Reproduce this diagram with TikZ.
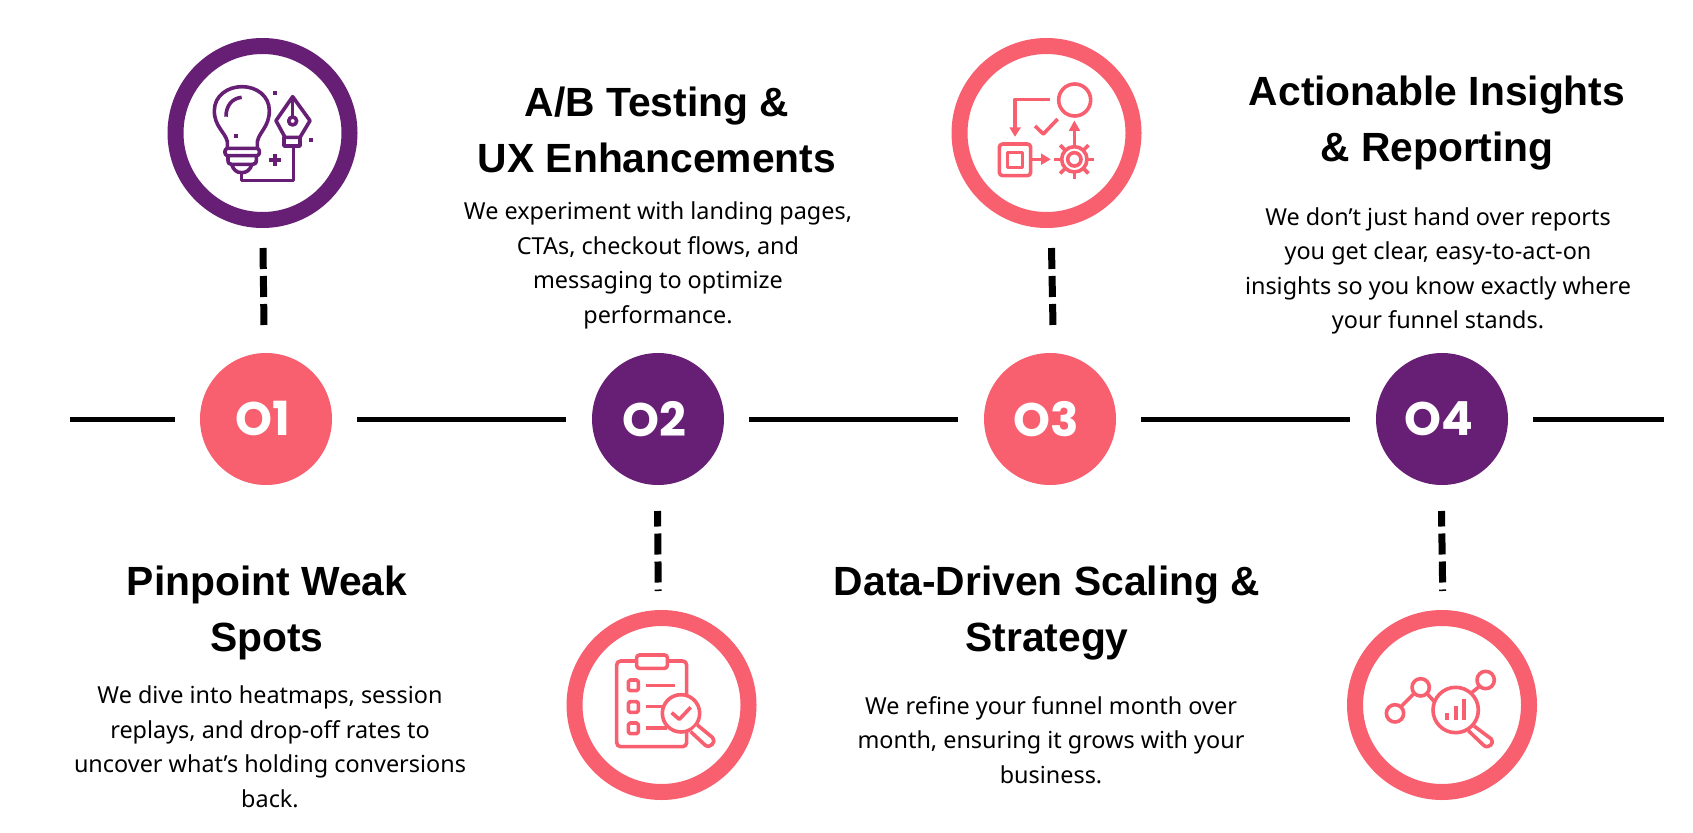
\documentclass[tikz,border=0pt]{standalone}
\usepackage{fontspec}
\setmainfont{Noto Sans}
\newfontfamily\numfont{Poppins}
\newfontfamily\headfont{Liberation Sans}
\definecolor{coral}{HTML}{F85F6F}
\definecolor{plum}{HTML}{661F75}
\tikzset{
    stepdot/.style={circle, fill=#1, minimum size=132, inner sep=0, text=white, font=\numfont\bfseries\fontsize{47}{47}\selectfont, execute at begin node=\hspace*{-7pt}},
    ring/.style={circle, draw=#1, line width=16, fill=white, minimum size=174, inner sep=0},
    timeline/.style={line width=5, black},
    dashline/.style={line width=7, black, dash pattern=on 21 off 7},
    headline/.style={align=center, font=\headfont\bfseries\fontsize{40.8}{56}\selectfont},
    bodytext/.style={align=center, font=\fontsize{23.4}{34.5}\selectfont},
    iconline/.style={line width=3.6, line join=round, draw=#1},
}
\begin{document}
\begin{tikzpicture}[x=1pt, y=-1pt]
    \useasboundingbox (0,0) rectangle (1693,832);

    \node[stepdot=coral] (step1) at (266,419) {O1};
    \node[stepdot=plum] (step2) at (658,419) {O2};
    \node[stepdot=coral] (step3) at (1050,419) {O3};
    \node[stepdot=plum] (step4) at (1442,419) {O4};

    \node[ring=plum] (ring1) at (262.5,133) {};
    \node[ring=coral] (ring2) at (661.5,705) {};
    \node[ring=coral] (ring3) at (1046.5,133) {};
    \node[ring=coral] (ring4) at (1442,705) {};

    \coordinate (lineL) at (70,419);
    \coordinate (lineR) at (1664,419);
    \draw[timeline, shorten >=25] (lineL) -- (step1);
    \draw[timeline, shorten <=25, shorten >=26] (step1) -- (step2);
    \draw[timeline, shorten <=25, shorten >=26] (step2) -- (step3);
    \draw[timeline, shorten <=25, shorten >=26] (step3) -- (step4);
    \draw[timeline, shorten <=25] (step4) -- (lineR);

    \coordinate (dash1a) at (263,248);
    \coordinate (dash1b) at (264,326);
    \coordinate (dash2a) at (657.6,511);
    \coordinate (dash2b) at (658.2,591);
    \coordinate (dash3a) at (1051.5,248);
    \coordinate (dash3b) at (1053,326);
    \coordinate (dash4a) at (1441.5,511);
    \coordinate (dash4b) at (1442.7,591);
    \draw[dashline] (dash1a) -- (dash1b);
    \draw[dashline, dash phase=5.5] (dash2a) -- (dash2b);
    \draw[dashline] (dash3a) -- (dash3b);
    \draw[dashline, dash phase=5.5] (dash4a) -- (dash4b);

    \node[headline] (title1) at (267,613) {Pinpoint Weak\\Spots};
    \node[bodytext] (body1) at (270,747) {We dive into heatmaps, session\\replays, and drop-off rates to\\uncover what’s holding conversions\\back.};
    \node[headline] (title2) at (657,129.5) {A/B Testing \&\\UX Enhancements};
    \node[bodytext] (body2) at (658,265.5) {We experiment with landing pages,\\CTAs, checkout flows, and\\messaging to optimize\\performance.};
    \node[headline] (title3) at (1047,613) {Data-Driven Scaling \&\\Strategy};
    \node[bodytext] (body3) at (1051,740) {We refine your funnel month over\\month, ensuring it grows with your\\business.};
    \node[headline] (title4) at (1437,123) {Actionable Insights\\\& Reporting};
    \node[bodytext] (body4) at (1438,271) {We don’t just hand over reports\\you get clear, easy-to-act-on\\insights so you know exactly where\\your funnel stands.};

    \begin{scope}[shift={(150,20)}, x=1/3*1pt, y=-1/3*1pt, iconline=plum]
        \draw (232,383) -- (232,365) .. controls (225,335) and (193,320) .. (193,272) .. controls (193,228) and (232,200) .. (276,200) .. controls (320,200) and (358,228) .. (358,272) .. controls (358,320) and (328,335) .. (322,365) -- (322,383);
        \draw (228,290) .. controls (228,258) and (245,235) .. (275,232);
        \draw[rounded corners=2.7] (225,385) rectangle (328,407);
        \draw (234,407) -- (234,420) .. controls (234,430) and (238,433) .. (245,433) -- (308,433) .. controls (315,433) and (319,430) .. (319,420) -- (319,407);
        \draw (245,433) .. controls (250,450) and (260,458) .. (275,458) .. controls (290,458) and (300,450) .. (306,433);
        \draw (275,458) -- (275,482) -- (430,482) -- (430,378);
        \draw (428,230) -- (480,302) -- (450,352) -- (405,352) -- (378,302) -- cycle;
        \draw (402,352) rectangle (450,378);
        \draw (428,230) -- (428,292);
        \draw (428,303) circle (12);
        \fill[plum] (370,214) rectangle (382,226);
        \fill[plum] (252,342) rectangle (264,354);
        \fill[plum] (476,354) rectangle (488,366);
        \draw (356,420) -- (394,420);
        \draw (375,401) -- (375,439);
    \end{scope}

    \begin{scope}[shift={(940,20)}, x=1/3*1pt, y=-1/3*1pt, iconline=coral]
        \draw (404,240) circle (48);
        \draw (330,238) -- (225,238) -- (225,325);
        \fill[coral] (208,322) -- (243,322) -- (225,350) -- cycle;
        \draw (285,318) -- (310,342) -- (353,297);
        \draw[rounded corners=3.3] (178,372) rectangle (272,467);
        \draw (203,397) rectangle (247,442);
        \draw (272,418) -- (305,418);
        \fill[coral] (303,400) -- (303,435) -- (332,418) -- cycle;
        \draw (403,418) circle (20);
        \draw (403,418) circle (38);
        \foreach \a in {0,45,...,315}
            \draw (403,418) ++(\a:40) -- ++(\a:20);
        \draw (403,378) -- (403,325);
        \fill[coral] (386,333) -- (421,333) -- (403,302) -- cycle;
    \end{scope}

    \begin{scope}[shift={(550,600)}, x=1/3*1pt, y=-1/3*1pt, iconline=coral]
        \draw[rounded corners=4] (200,183) rectangle (410,440);
        \draw[fill=white, rounded corners=2.7] (260,165) rectangle (352,205);
        \draw[rounded corners=1.7] (235,240) rectangle (265,272);
        \draw[rounded corners=1.7] (235,305) rectangle (265,337);
        \draw[rounded corners=1.7] (235,369) rectangle (265,401);
        \draw (288,257) -- (375,257);
        \draw (288,320) -- (340,320);
        \draw (288,384) -- (350,384);
        \draw[fill=white] (393,340) circle (56);
        \draw (365,338) -- (388,358) -- (422,322);
        \draw[fill=white] (442,375) -- (488,413) .. controls (500,425) and (480,448) .. (465,435) -- (422,395);
    \end{scope}

    \begin{scope}[shift={(1330,600)}, x=1/3*1pt, y=-1/3*1pt, iconline=coral]
        \draw (195,340) circle (26);
        \draw (272,262) circle (26);
        \draw (467,240) circle (26);
        \draw (213,320) -- (250,283);
        \draw (293,283) -- (316,308);
        \draw (425,278) -- (447,260);
        \draw (377,330) circle (68);
        \fill[coral] (345,338) rectangle (357,360);
        \fill[coral] (372,318) rectangle (384,360);
        \fill[coral] (396,298) rectangle (408,360);
        \draw (432,378) -- (484,417) .. controls (495,428) and (475,450) .. (460,435) -- (415,392);
    \end{scope}
\end{tikzpicture}
\end{document}
